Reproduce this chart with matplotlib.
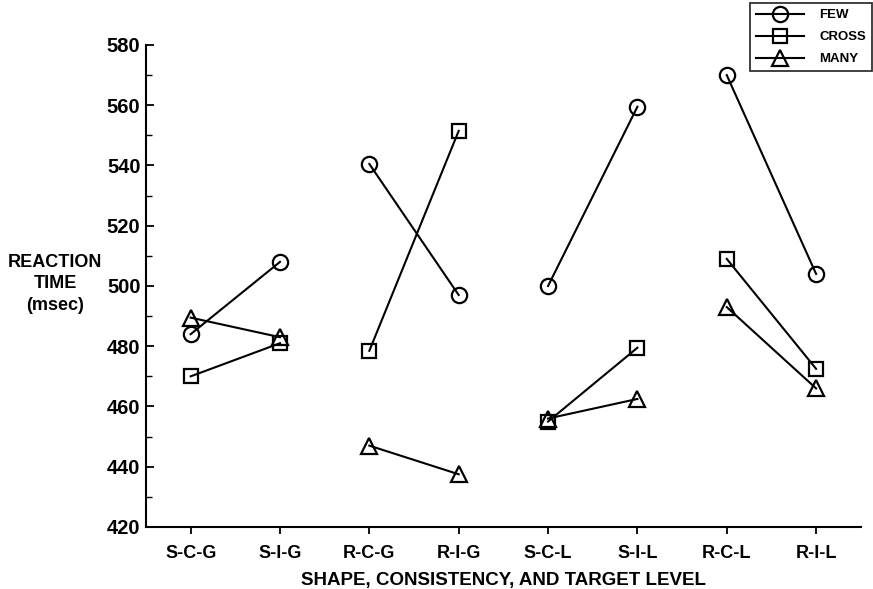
import numpy as np
import matplotlib
matplotlib.use("Agg")
import matplotlib.pyplot as plt
from matplotlib.ticker import MultipleLocator

plt.rcParams["font.family"] = ["Liberation Sans", "DejaVu Sans"]
plt.rcParams["font.weight"] = "bold"
plt.rcParams["axes.labelweight"] = "bold"

categories = ["S-C-G", "S-I-G", "R-C-G", "R-I-G", "S-C-L", "S-I-L", "R-C-L", "R-I-L"]
few = [484, 508, 540.5, 497, 500, 559.5, 570, 504]
cross = [470, 481, 478.5, 551.5, 455, 479.5, 509, 472.5]
many = [489.5, 483, 447, 437.5, 456, 462.5, 493, 466]

series = [("FEW", few, "o"), ("CROSS", cross, "s"), ("MANY", many, "^")]

fig = plt.figure(figsize=(8.73, 5.89), dpi=100)
ax = fig.add_axes([0.1672, 0.1053, 0.8188, 0.8183])

x = np.arange(len(categories))
handles = []
for name, vals, mk in series:
    # 每組兩點連線
    for i in range(0, len(vals), 2):
        line, = ax.plot(x[i:i + 2], vals[i:i + 2], color="black", linewidth=1.5,
                        marker=mk, markersize=11 if mk != "s" else 10,
                        markerfacecolor="none", markeredgecolor="black",
                        markeredgewidth=1.6)
    handles.append((line, name))

ax.set_xlim(-0.5, 7.5)
ax.set_ylim(420, 580)
ax.set_xticks(x)
ax.set_xticklabels(categories)
ax.yaxis.set_major_locator(MultipleLocator(20))
ax.yaxis.set_minor_locator(MultipleLocator(10))

for side in ["top", "right"]:
    ax.spines[side].set_visible(False)
for side in ["left", "bottom"]:
    ax.spines[side].set_linewidth(1.5)

ax.tick_params(axis="y", which="major", direction="in", length=6, width=1.3,
               labelsize=14.5, pad=4)
ax.tick_params(axis="y", which="minor", direction="in", length=4, width=1.0)
ax.tick_params(axis="x", which="major", direction="out", length=5, width=1.3,
               labelsize=13, pad=8)

ax.set_xlabel("SHAPE, CONSISTENCY, AND TARGET LEVEL", fontsize=13.5, labelpad=7)
fig.text(0.063, 0.518, "REACTION\nTIME\n(msec)", ha="center", va="center",
         fontsize=13, linespacing=1.35)

leg = fig.legend([h for h, _ in handles], [n for _, n in handles],
                 loc="upper right", bbox_to_anchor=(0.999, 0.995),
                 fontsize=9.5, frameon=True, fancybox=False, handlelength=3.6,
                 labelspacing=0.75, borderpad=0.45, handletextpad=1.2,
                 borderaxespad=0.0)
leg.get_frame().set_edgecolor("black")
leg.get_frame().set_linewidth(1.3)

fig.savefig("out.png", dpi=100)
